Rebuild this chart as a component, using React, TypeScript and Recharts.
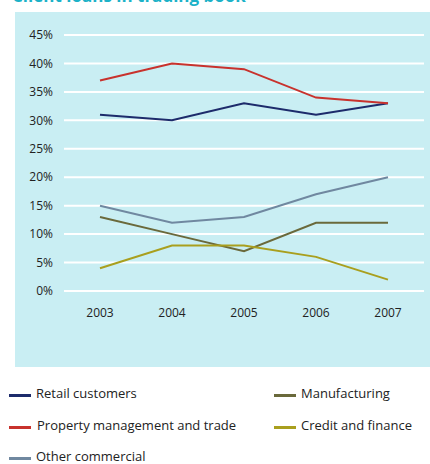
import { CartesianGrid, Line, LineChart, XAxis, YAxis } from "recharts";

const years = ["2003", "2004", "2005", "2006", "2007"];
const retail = [31, 30, 33, 31, 33];
const property = [37, 40, 39, 34, 33];
const otherCommercial = [15, 12, 13, 17, 20];
const manufacturing = [13, 10, 7, 12, 12];
const creditFinance = [4, 8, 8, 6, 2];
const yTicks = [0, 5, 10, 15, 20, 25, 30, 35, 40, 45];

const SERIES = [
  { key: "retail", name: "Retail customers", color: "#1d2b6b" },
  { key: "property", name: "Property management and trade", color: "#c8322d" },
  { key: "other", name: "Other commercial", color: "#7088a0" },
  { key: "manufacturing", name: "Manufacturing", color: "#6a693b" },
  { key: "credit", name: "Credit and finance", color: "#a99f1e" },
];

const data = years.map((year, i) => ({
  year,
  retail: retail[i],
  property: property[i],
  other: otherCommercial[i],
  manufacturing: manufacturing[i],
  credit: creditFinance[i],
}));

// legend slots: [series index, left, centre y]
const LEGEND_POS: [number, number, number][] = [
  [0, 9, 393],
  [1, 9, 425],
  [2, 9, 456],
  [3, 274, 393],
  [4, 274, 425],
];

const FONT = "'Open Sans', 'Noto Sans', sans-serif";

export default function App() {
  return (
    <div
      style={{
        position: "absolute",
        left: 0,
        top: 0,
        width: 430,
        height: 464,
        background: "#fff",
        overflow: "hidden",
        fontFamily: FONT,
      }}
    >
      {/* title, mostly cropped off the top */}
      <div
        style={{
          position: "absolute",
          left: 12,
          top: -14,
          fontSize: 17,
          lineHeight: "20px",
          fontWeight: 700,
          color: "#1cb2c8",
          whiteSpace: "nowrap",
        }}
      >
        Client loans in trading book
      </div>

      {/* chart panel */}
      <div
        style={{
          position: "absolute",
          left: 15,
          top: 12,
          width: 415,
          height: 355,
          background: "#c9eef3",
        }}
      >
        <LineChart
          width={415}
          height={355}
          data={data}
          margin={{ top: 23, right: 6, bottom: 46, left: 0 }}
        >
          <CartesianGrid vertical={false} stroke="#ffffff" strokeWidth={2} />
          <XAxis
            dataKey="year"
            height={30}
            axisLine={false}
            tickLine={false}
            tickSize={0}
            tickMargin={17}
            padding={{ left: 36, right: 36 }}
            tick={{ fill: "#222", fontSize: 12, fontFamily: FONT }}
          />
          <YAxis
            width={49}
            domain={[0, 45]}
            ticks={yTicks}
            axisLine={false}
            tickLine={false}
            tickSize={0}
            tickMargin={11}
            tickFormatter={(v: number) => `${v}%`}
            tick={{ fill: "#222", fontSize: 12, fontFamily: FONT }}
          />
          {SERIES.map((s) => (
            <Line
              key={s.key}
              dataKey={s.key}
              name={s.name}
              stroke={s.color}
              strokeWidth={2}
              dot={false}
              activeDot={false}
              type="linear"
              isAnimationActive={false}
            />
          ))}
        </LineChart>
      </div>

      {/* legend */}
      {LEGEND_POS.map(([idx, left, cy]) => {
        const s = SERIES[idx];
        return (
          <div
            key={s.key}
            style={{
              position: "absolute",
              left,
              top: cy - 8,
              height: 16,
              display: "flex",
              alignItems: "center",
              whiteSpace: "nowrap",
              fontSize: 13,
              lineHeight: "16px",
              color: "#222",
            }}
          >
            <span
              style={{
                display: "inline-block",
                width: 22,
                height: 3,
                marginTop: 4,
                marginRight: idx === 1 ? 6 : 5,
                background: s.color,
              }}
            />
            {s.name}
          </div>
        );
      })}
    </div>
  );
}
